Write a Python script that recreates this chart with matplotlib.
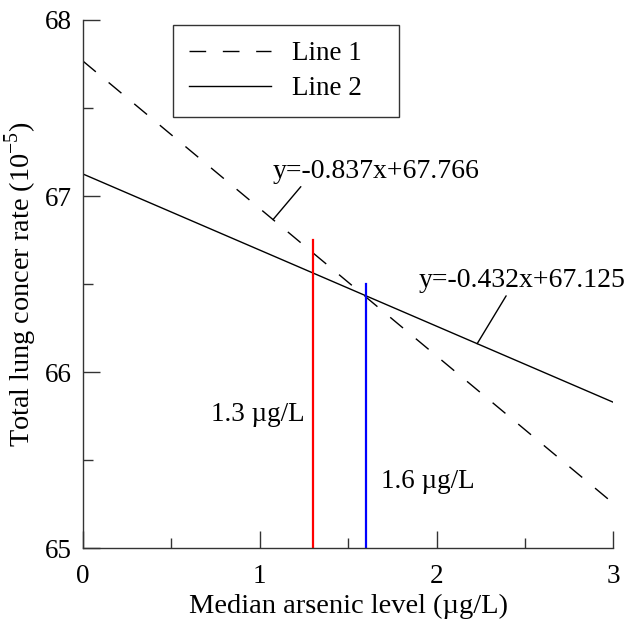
import matplotlib
matplotlib.use("Agg")
import matplotlib.pyplot as plt
import numpy as np
from matplotlib.ticker import MultipleLocator

plt.rcParams['font.family'] = ['Liberation Serif', 'DejaVu Serif']
plt.rcParams['mathtext.fontset'] = 'custom'
plt.rcParams['mathtext.rm'] = 'Liberation Serif'

# Data
x_range = [0, 3]
line1_slope, line1_intercept = -0.837, 67.766
line2_slope, line2_intercept = -0.432, 67.125
series_labels = ["Line 1", "Line 2"]
eq_labels = ["y=-0.837x+67.766", "y=-0.432x+67.125"]
marker_x = [1.3, 1.6]
marker_top = [66.75, 66.5]
marker_colors = ["red", "blue"]
marker_labels = ["1.3 \u00b5g/L", "1.6 \u00b5g/L"]

fig = plt.figure(figsize=(6.29, 6.23), dpi=100)
ax = fig.add_axes([0.132, 0.120, 0.843, 0.848])

xs = np.array(x_range, dtype=float)
ax.plot(xs, line1_slope * xs + line1_intercept, color='black', lw=1.0,
        dashes=(12, 12), label=series_labels[0] + "   ")
ax.plot(xs, line2_slope * xs + line2_intercept, color='black', lw=1.0,
        label=series_labels[1] + "   ")

for xv, top, c in zip(marker_x, marker_top, marker_colors):
    ax.plot([xv, xv], [65, top], color=c, lw=1.6)

ax.set_xlim(0, 3)
ax.set_ylim(65, 68)
ax.xaxis.set_major_locator(MultipleLocator(1))
ax.xaxis.set_minor_locator(MultipleLocator(0.5))
ax.yaxis.set_major_locator(MultipleLocator(1))
ax.yaxis.set_minor_locator(MultipleLocator(0.5))
ax.tick_params(which='major', direction='in', length=12.2, width=1.0, labelsize=19.5,
               color='#333333')
ax.tick_params(axis='x', which='major', pad=11)
ax.tick_params(axis='y', which='major', pad=8)
ax.tick_params(which='minor', direction='in', length=7.2, width=1.0, color='#333333')
for s in ['top', 'right']:
    ax.spines[s].set_visible(False)
for s in ['left', 'bottom']:
    ax.spines[s].set_linewidth(1.0)
    ax.spines[s].set_color('#333333')

ax.set_xlabel("Median arsenic level (\u00b5g/L)", fontsize=20.5, labelpad=4)
ax.set_ylabel("Total lung concer rate (10$^{\\mathregular{-5}}$)", fontsize=20.3, labelpad=4)

# equation annotations
x1 = 1.075
ax.annotate(eq_labels[0], xy=(x1, line1_slope * x1 + line1_intercept), xytext=(1.07, 67.14),
            fontsize=20, ha='left', va='center',
            arrowprops=dict(arrowstyle='-', color='black', lw=1.0, shrinkA=0, shrinkB=0,
                            relpos=(0.15, 0.0)))
x2 = 2.23
ax.annotate(eq_labels[1], xy=(x2, line2_slope * x2 + line2_intercept), xytext=(1.9, 66.52),
            fontsize=20, ha='left', va='center',
            arrowprops=dict(arrowstyle='-', color='black', lw=1.0, shrinkA=0, shrinkB=0,
                            relpos=(0.43, 0.0)))

ax.text(0.725, 65.76, marker_labels[0], fontsize=19.5, ha='left', va='center')
ax.text(1.687, 65.38, marker_labels[1], fontsize=19.5, ha='left', va='center')

leg = ax.legend(loc='upper left', bbox_to_anchor=(0.17, 0.99), fontsize=19.5, frameon=True,
                fancybox=False, edgecolor='black', handlelength=3.0, borderpad=0.6,
                labelspacing=0.36, handletextpad=0.8, borderaxespad=0)
leg.get_frame().set_linewidth(1.0)

fig.savefig("out.png", dpi=100)
